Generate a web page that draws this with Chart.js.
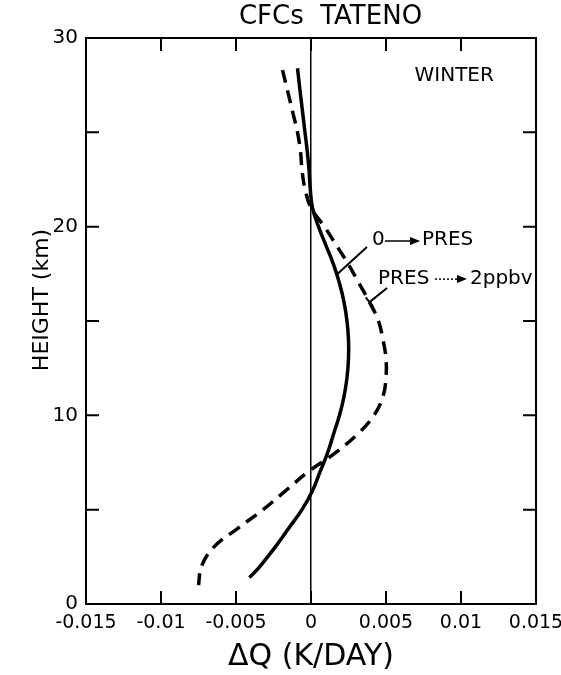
<!DOCTYPE html>
<html>
<head>
<meta charset="utf-8">
<script src="https://cdn.jsdelivr.net/npm/chart.js@4.4.1/dist/chart.umd.min.js"></script>
<style>
    body { margin: 0; background: #fff; }
    #wrap { width: 561px; height: 675px; }
</style>
</head>
<body>
<div id="wrap"><canvas id="cfc-chart" width="561" height="675"></canvas></div>
<script>
// 0 -> PRES (solid curve)
const solidHeight = [28.4, 27, 26, 25, 24, 23, 22, 21, 20, 19, 18, 17, 16, 15, 14, 13, 12, 11, 10, 9, 8, 7, 6, 5, 4, 3, 2, 1.4];
const solidDq = [-0.0009, -0.0007, -0.00055, -0.0004, -0.00025, -0.00013, -0.00005, 0.0001, 0.0005, 0.001, 0.0015, 0.0019, 0.0022, 0.0024, 0.0025, 0.0025, 0.0024, 0.0022, 0.0019, 0.0015, 0.0011, 0.0006, 0.0001, -0.0006, -0.0015, -0.0024, -0.0034, -0.0041];

// PRES -> 2ppbv (dashed curve)
const dashHeight = [28.3, 27, 26, 25, 24, 23, 22, 21, 20, 19, 18, 17, 16, 15, 14, 13, 12, 11, 10, 9, 8, 7, 6, 5, 4, 3, 2, 1];
const dashDq = [-0.0019, -0.0015, -0.0012, -0.0009, -0.0007, -0.0006, -0.0004, 0.0, 0.0009, 0.0017, 0.0025, 0.0032, 0.0039, 0.0045, 0.0048, 0.005, 0.005, 0.0048, 0.0042, 0.0031, 0.0016, -0.0002, -0.0017, -0.0032, -0.0049, -0.0065, -0.0073, -0.0075];

const xTickLabels = ["-0.015", "-0.01", "-0.005", "0", "0.005", "0.01", "0.015"];
const yTickLabels = ["0", "", "10", "", "20", "", "30"];

const FONT = "'DejaVu Sans', sans-serif";

function toPoints(xs, ys) {
    return ys.map((h, i) => ({ x: xs[i], y: h }));
}

// frame, inward ticks, title and the labels drawn on the plot
const framePlugin = {
    id: "frame",
    afterDraw(chart) {
        const { ctx, chartArea: a, scales: { x, y } } = chart;
        const P = (xv, yv) => [x.getPixelForValue(xv), y.getPixelForValue(yv)];
        ctx.save();
        ctx.strokeStyle = "#000";
        ctx.fillStyle = "#000";
        ctx.lineWidth = 2;
        ctx.strokeRect(a.left, a.top, a.right - a.left, a.bottom - a.top);

        const len = 13;
        ctx.beginPath();
        x.ticks.forEach((t) => {
            const px = x.getPixelForValue(t.value);
            ctx.moveTo(px, a.bottom);
            ctx.lineTo(px, a.bottom - len);
            ctx.moveTo(px, a.top);
            ctx.lineTo(px, a.top + len);
        });
        y.ticks.forEach((t) => {
            const py = y.getPixelForValue(t.value);
            ctx.moveTo(a.left, py);
            ctx.lineTo(a.left + len, py);
            ctx.moveTo(a.right, py);
            ctx.lineTo(a.right - len, py);
        });
        ctx.stroke();

        // title
        ctx.textBaseline = "middle";
        ctx.textAlign = "center";
        ctx.font = "26px " + FONT;
        ctx.fillText("CFCs  TATENO", x.getPixelForValue(0.0013), 17);

        // y axis title
        ctx.save();
        ctx.translate(42, 300);
        ctx.rotate(-Math.PI / 2);
        ctx.font = "22px " + FONT;
        ctx.fillText("HEIGHT (km)", 0, 0);
        ctx.restore();

        ctx.textAlign = "left";
        ctx.font = "20px " + FONT;
        let p = P(0.0069, 28.0);
        ctx.fillText("WINTER", p[0], p[1]);

        // 0 -> PRES
        p = P(0.00407, 19.29);
        ctx.fillText("0", p[0], p[1]);
        p = P(0.0074, 19.29);
        ctx.fillText("PRES", p[0], p[1]);
        let s = P(0.00493, 19.24), e = P(0.00727, 19.24);
        ctx.lineWidth = 1.5;
        ctx.beginPath();
        ctx.moveTo(s[0], s[1]);
        ctx.lineTo(e[0] - 8, e[1]);
        ctx.stroke();
        ctx.beginPath();
        ctx.moveTo(e[0], e[1]);
        ctx.lineTo(e[0] - 10, e[1] - 4);
        ctx.lineTo(e[0] - 10, e[1] + 4);
        ctx.closePath();
        ctx.fill();
        s = P(0.00373, 18.92);
        e = P(0.00167, 17.43);
        ctx.lineWidth = 2;
        ctx.beginPath();
        ctx.moveTo(s[0], s[1]);
        ctx.lineTo(e[0], e[1]);
        ctx.stroke();

        // PRES -> 2ppbv
        p = P(0.00447, 17.22);
        ctx.fillText("PRES", p[0], p[1]);
        p = P(0.0106, 17.22);
        ctx.fillText("2ppbv", p[0], p[1]);
        s = P(0.00827, 17.22);
        e = P(0.0104, 17.22);
        ctx.lineWidth = 1.5;
        ctx.setLineDash([2, 2]);
        ctx.beginPath();
        ctx.moveTo(s[0], s[1]);
        ctx.lineTo(e[0] - 8, e[1]);
        ctx.stroke();
        ctx.setLineDash([]);
        ctx.beginPath();
        ctx.moveTo(e[0], e[1]);
        ctx.lineTo(e[0] - 10, e[1] - 4);
        ctx.lineTo(e[0] - 10, e[1] + 4);
        ctx.closePath();
        ctx.fill();
        s = P(0.00507, 16.75);
        e = P(0.0039, 16.0);
        ctx.lineWidth = 2;
        ctx.beginPath();
        ctx.moveTo(s[0], s[1]);
        ctx.lineTo(e[0], e[1]);
        const dx = e[0] - s[0], dy = e[1] - s[1];
        const d = Math.hypot(dx, dy);
        const nx = -dy / d * 6, ny = dx / d * 6;
        ctx.moveTo(e[0] - nx, e[1] - ny);
        ctx.lineTo(e[0] + nx, e[1] + ny);
        ctx.stroke();
        ctx.restore();
    },
};

new Chart(document.getElementById("cfc-chart"), {
    type: "line",
    data: {
        datasets: [
            {
                label: "0 -> PRES",
                data: toPoints(solidDq, solidHeight),
                borderColor: "#000",
                borderWidth: 3.5,
                pointRadius: 0,
                tension: 0.4,
                fill: false,
            },
            {
                label: "PRES -> 2ppbv",
                data: toPoints(dashDq, dashHeight),
                borderColor: "#000",
                borderWidth: 3.5,
                borderDash: [13, 8],
                pointRadius: 0,
                tension: 0.4,
                fill: false,
            },
        ],
    },
    options: {
        responsive: false,
        animation: false,
        devicePixelRatio: 1,
        layout: { padding: { top: 38, right: 25, left: 0, bottom: 0 } },
        plugins: {
            legend: { display: false },
            tooltip: { enabled: false },
            title: { display: false },
        },
        scales: {
            x: {
                type: "linear",
                min: -0.015,
                max: 0.015,
                border: { display: false },
                grid: {
                    drawTicks: false,
                    lineWidth: 1.5,
                    color: (c) => (c.tick && c.tick.value === 0 ? "#000" : "rgba(0,0,0,0)"),
                },
                ticks: {
                    stepSize: 0.005,
                    autoSkip: false,
                    maxRotation: 0,
                    padding: 8,
                    color: "#000",
                    font: { family: FONT, size: 19 },
                    callback: (v, i) => xTickLabels[i],
                },
                title: {
                    display: true,
                    text: "ΔQ (K/DAY)",
                    color: "#000",
                    font: { family: FONT, size: 30 },
                    padding: { top: 4, bottom: 0 },
                },
                afterFit: (scale) => {
                    scale.height = 71;
                    scale.paddingLeft = 0;
                    scale.paddingRight = 0;
                },
            },
            y: {
                type: "linear",
                min: 0,
                max: 30,
                border: { display: false },
                grid: { display: false, drawTicks: false },
                ticks: {
                    stepSize: 5,
                    autoSkip: false,
                    padding: 8,
                    color: "#000",
                    font: { family: FONT, size: 20 },
                    callback: (v, i) => yTickLabels[i],
                },
                afterFit: (scale) => {
                    scale.width = 86;
                    scale.paddingTop = 0;
                    scale.paddingBottom = 0;
                },
            },
        },
    },
    plugins: [framePlugin],
});
</script>
</body>
</html>
